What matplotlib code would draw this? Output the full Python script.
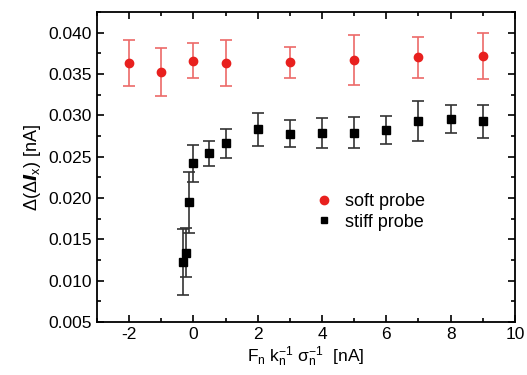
import numpy as np
import matplotlib.pyplot as plt
from matplotlib.ticker import MultipleLocator
from matplotlib.lines import Line2D

plt.rcParams['font.family'] = ['Liberation Sans', 'DejaVu Sans']
plt.rcParams['mathtext.fontset'] = 'custom'
plt.rcParams['mathtext.rm'] = 'Liberation Sans'
plt.rcParams['mathtext.it'] = 'Liberation Sans:italic'
plt.rcParams['mathtext.bf'] = 'Liberation Sans:bold'
plt.rcParams['axes.unicode_minus'] = False

# soft probe
x_soft = [-2, -1, 0, 1, 3, 5, 7, 9]
y_soft = [0.0363, 0.0353, 0.0366, 0.0363, 0.0364, 0.0367, 0.0370, 0.0372]
e_soft = [0.0028, 0.0029, 0.0021, 0.0028, 0.0019, 0.0030, 0.0025, 0.0028]

# stiff probe
x_stiff = [-0.33, -0.23, -0.15, 0.0, 0.5, 1, 2, 3, 4, 5, 6, 7, 8, 9]
y_stiff = [0.0123, 0.0134, 0.0195, 0.0242, 0.0254, 0.0266, 0.0283, 0.0278,
           0.0279, 0.0279, 0.0282, 0.0293, 0.0296, 0.0293]
e_stiff = [0.0040, 0.0030, 0.0037, 0.0022, 0.0015, 0.0017, 0.0020, 0.0016,
           0.0018, 0.0019, 0.0017, 0.0024, 0.0017, 0.0020]

fig = plt.figure(figsize=(5.27, 3.75), dpi=100)
ax = fig.add_axes([0.184, 0.141, 0.793, 0.827])

ax.errorbar(x_soft, y_soft, yerr=e_soft, fmt='o', color='#e8201e', ms=6,
            ecolor='#ec6a68', elinewidth=1.2, capsize=4, capthick=1.2, zorder=3)
ax.errorbar(x_stiff, y_stiff, yerr=e_stiff, fmt='s', color='black', ms=6,
            ecolor='#333333', elinewidth=1.2, capsize=4, capthick=1.2, zorder=3)

ax.set_xlim(-3, 10)
ax.set_ylim(0.005, 0.0425)
ax.xaxis.set_major_locator(MultipleLocator(2))
ax.xaxis.set_minor_locator(MultipleLocator(1))
ax.yaxis.set_major_locator(MultipleLocator(0.005))
ax.yaxis.set_minor_locator(MultipleLocator(0.0025))
ax.yaxis.set_major_formatter(plt.FormatStrFormatter('%.3f'))

ax.tick_params(which='both', direction='in', top=True, right=True, labelsize=12.5)
ax.tick_params(which='major', length=5, width=1.2)
ax.tick_params(which='minor', length=3, width=1.2)
for s in ax.spines.values():
    s.set_linewidth(1.3)

ax.set_xlabel(r'F$_\mathrm{n}$ k$_\mathrm{n}^{-1}$ $\mathrm{\sigma}_\mathrm{n}^{-1}$  [nA]', fontsize=12.5, labelpad=2)
ax.set_ylabel(r'$\Delta(\Delta\boldsymbol{I}_\mathrm{x})$ [nA]', fontsize=13, labelpad=4)

handles = [Line2D([], [], ls='none', marker='o', color='#e8201e', ms=6),
           Line2D([], [], ls='none', marker='s', color='black', ms=5)]
ax.legend(handles, ['soft probe', 'stiff probe'], loc='upper left',
          bbox_to_anchor=(0.495, 0.44), frameon=False, fontsize=13,
          handletextpad=0.5, borderaxespad=0, handlelength=1.4, labelspacing=0.2)

fig.savefig('out.png', dpi=100)
